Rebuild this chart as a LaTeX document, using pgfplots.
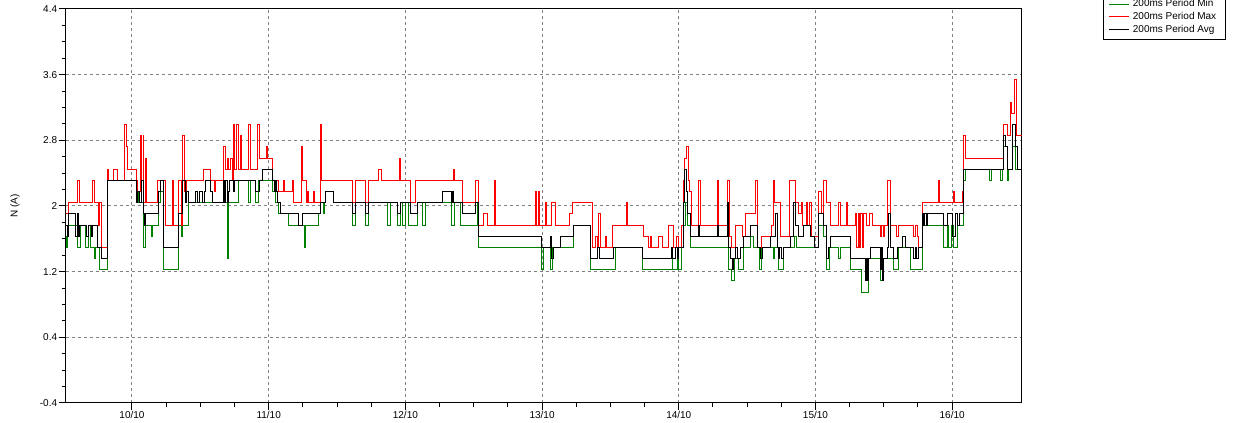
\documentclass[border=0pt]{standalone}
\usepackage{fontspec}
\setmainfont{Liberation Sans}
\usepackage{pgfplots}
\pgfplotsset{compat=1.18}
\definecolor{mingreen}{RGB}{0,128,0}
\definecolor{gridgray}{RGB}{128,128,128}
\begin{document}
\fontsize{7.5}{9}\selectfont
\begin{tikzpicture}
\useasboundingbox (0,0) rectangle (924.75pt,317.25pt);
\clip (0,0) rectangle (924.75pt,317.25pt);
\begin{axis}[
  at={(49.275pt,15pt)}, anchor=south west,
  scale only axis, width=717.2pt, height=295.5pt,
  xmin=9.515, xmax=16.5106, ymin=-0.4, ymax=4.4,
  xtick={10,11,12,13,14,15,16},
  xticklabels={10/10,11/10,12/10,13/10,14/10,15/10,16/10},
  ytick={-0.4,0.4,1.2,2,2.8,3.6,4.4},
  yticklabels={-0.4,0.4,1.2,2,2.8,3.6,4.4},
  minor x tick num=3, minor y tick num=3,
  tick align=outside, xtick pos=left, ytick pos=left,
  major tick length=5.25pt, minor tick length=3pt,
  tick style={black, line width=0.75pt},
  grid=major,
  major grid style={gridgray, line width=0.75pt, dash pattern=on 2.25pt off 2.25pt},
  axis line style={line width=0.75pt},
  ticklabel style={font=\fontsize{7.5}{9}\selectfont},
  xticklabel style={yshift=2pt},
  yticklabel style={xshift=1.5pt},
  ylabel={N (A)},
  every axis y label/.style={at={(axis description cs:-0.053,0.5)}, rotate=90, anchor=center, font=\fontsize{7.5}{9}\selectfont},
  legend style={at={(axis description cs:1.0847,0.922)}, anchor=south west, fill=white,
    font=\fontsize{7.5}{9}\selectfont, inner xsep=4pt, inner ysep=4pt, row sep=2.5pt,
    nodes={inner xsep=2.5pt, inner ysep=0pt, text height=5.5pt, text depth=1.5pt}},
  legend cell align=left,
]
\addplot[const plot, mingreen, line width=0.75pt,
  legend image code/.code={\draw[mingreen, line width=0.75pt] (0pt,0pt) -- (15pt,0pt);}] coordinates {
(9.5150,1.632) (9.5245,1.496) (9.5318,1.632) (9.5391,1.768) (9.5999,1.496) (9.6247,1.768)
(9.6613,1.496) (9.6854,1.768) (9.6979,1.496) (9.7242,1.36) (9.7345,1.496) (9.7637,1.224)
(9.8193,2.312) (10.0344,2.176) (10.0512,2.04) (10.0878,1.496) (10.1002,1.768) (10.1441,1.632)
(10.1514,1.768) (10.1975,2.04) (10.2121,2.176) (10.2341,1.224) (10.3438,1.768) (10.3636,1.632)
(10.3709,1.768) (10.4170,2.04) (10.7023,1.36) (10.7096,2.04) (10.7827,2.312) (10.8559,2.04)
(10.8683,2.312) (10.9049,2.04) (10.9290,2.312) (11.0263,2.176) (11.0534,2.04) (11.0753,1.904)
(11.1485,1.768) (11.2655,1.496) (11.2707,1.768) (11.3680,1.904) (11.3804,2.04) (11.4045,1.904)
(11.4119,2.04) (11.4170,2.176) (11.4777,2.04) (11.6116,1.768) (11.6364,2.04) (11.7096,1.768)
(11.7337,2.04) (11.8676,1.768) (11.8925,2.04) (11.9408,1.768) (11.9656,2.04) (11.9773,1.768)
(12.0022,2.04) (12.0263,1.768) (12.0871,2.04) (12.1236,1.768) (12.1485,2.04) (12.3387,1.768)
(12.3607,2.04) (12.4045,1.768) (12.5260,2.04) (12.5384,1.496) (12.9942,1.224) (13.0139,1.496)
(13.0651,1.224) (13.0797,1.496) (13.2334,1.768) (13.3577,1.224) (13.5384,1.496) (13.7330,1.224)
(13.9525,1.496) (13.9576,1.224) (13.9890,1.496) (14.0015,1.224) (14.0212,1.496) (14.0380,1.768)
(14.0490,2.04) (14.0651,1.768) (14.0871,1.496) (14.3672,1.224) (14.3892,1.088) (14.4090,1.36)
(14.4404,1.224) (14.4770,1.496) (14.5260,1.632) (14.5501,1.496) (14.5940,1.224) (14.6086,1.496)
(14.6913,1.36) (14.7037,1.496) (14.7330,1.224) (14.7696,1.496) (14.8500,1.632) (14.8647,1.496)
(15.0256,1.768) (15.0622,1.632) (15.0841,1.224) (15.1061,1.496) (15.1719,1.36) (15.1844,1.496)
(15.2575,1.224) (15.3402,0.952) (15.3914,1.36) (15.4770,1.088) (15.5011,1.36) (15.5743,1.224)
(15.6108,1.496) (15.6964,1.224) (15.7813,1.768) (15.9400,1.496) (15.9642,1.768) (15.9766,1.496)
(15.9986,1.768) (16.0132,1.496) (16.0373,1.768) (16.0863,2.312) (16.0988,2.448) (16.2765,2.312)
(16.2860,2.448) (16.3570,2.312) (16.3665,2.448) (16.3789,2.72) (16.4031,2.312) (16.4155,2.448)
(16.4397,2.72) (16.4645,2.448) (16.5106,2.448)
};
\addlegendentry{200ms Period Min}
\addplot[const plot, red, line width=0.75pt,
  legend image code/.code={\draw[red, line width=0.75pt] (0pt,0pt) -- (15pt,0pt);}] coordinates {
(9.5150,1.904) (9.5391,2.04) (9.5999,2.312) (9.6123,2.04) (9.7096,2.312) (9.7271,2.04)
(9.7586,1.768) (9.7659,2.04) (9.7754,1.496) (9.8193,2.448) (9.8266,2.312) (9.8632,2.448)
(9.8976,2.312) (9.9415,2.992) (9.9583,2.72) (9.9656,2.448) (10.0344,2.312) (10.0439,2.176)
(10.0607,2.856) (10.0680,2.312) (10.0805,2.856) (10.0878,2.04) (10.1002,2.584) (10.1097,2.04)
(10.1851,2.312) (10.2465,1.768) (10.2948,2.312) (10.3072,1.768) (10.3438,2.312) (10.3606,1.768)
(10.3680,2.856) (10.3855,2.176) (10.4001,2.312) (10.5267,2.448) (10.5757,2.312) (10.6021,2.176)
(10.6145,2.312) (10.6730,2.72) (10.6854,2.448) (10.6950,2.584) (10.7096,2.448) (10.7242,2.584)
(10.7337,2.312) (10.7462,2.992) (10.7535,2.448) (10.7681,2.992) (10.7776,2.448) (10.7901,2.856)
(10.7996,2.448) (10.8559,2.992) (10.8683,2.448) (10.9195,2.992) (10.9312,2.584) (10.9854,2.72)
(10.9949,2.584) (11.0263,2.312) (11.0753,2.176) (11.1119,2.312) (11.1192,2.176) (11.1726,2.312)
(11.1800,2.176) (11.1851,2.04) (11.2385,2.72) (11.2509,2.312) (11.2780,2.04) (11.2875,2.176)
(11.2948,2.04) (11.3314,2.176) (11.3365,2.04) (11.3804,2.992) (11.3877,2.312) (11.6116,2.04)
(11.6364,2.312) (11.7096,2.04) (11.7337,2.312) (11.8069,2.448) (11.8288,2.312) (11.9554,2.584)
(11.9678,2.312) (12.0388,2.04) (12.0754,2.312) (12.3504,2.448) (12.3628,2.312) (12.4162,2.04)
(12.5143,2.312) (12.5384,1.768) (12.5750,1.904) (12.5991,1.768) (12.6555,2.312) (12.6628,1.768)
(12.9554,2.176) (12.9627,1.768) (12.9722,2.176) (12.9825,1.768) (13.0263,2.04) (13.0358,1.768)
(13.0724,2.04) (13.0995,1.768) (13.2041,1.904) (13.2209,2.04) (13.3672,1.496) (13.3943,1.632)
(13.4089,1.496) (13.4162,1.904) (13.4258,1.496) (13.4653,1.632) (13.4697,1.496) (13.5135,1.768)
(13.6160,2.04) (13.6233,1.768) (13.7454,1.632) (13.7820,1.496) (13.7944,1.632) (13.7988,1.496)
(13.8552,1.632) (13.8793,1.496) (13.9283,1.768) (13.9649,1.496) (13.9868,1.632) (14.0015,1.496)
(14.0234,1.768) (14.0380,2.312) (14.0454,2.584) (14.0600,2.72) (14.0695,2.312) (14.0819,2.176)
(14.0915,1.768) (14.1478,2.312) (14.1573,1.768) (14.2816,2.312) (14.2941,1.768) (14.3548,2.312)
(14.3746,1.632) (14.3870,1.496) (14.4163,1.768) (14.4645,1.632) (14.4894,1.904) (14.5648,2.312)
(14.5743,1.496) (14.6086,1.632) (14.6818,1.768) (14.6913,2.312) (14.6986,2.04) (14.7476,1.632)
(14.8135,2.312) (14.8552,2.04) (14.8793,1.904) (14.9013,2.04) (14.9086,1.768) (14.9378,2.04)
(14.9451,1.768) (14.9598,2.04) (14.9744,1.632) (15.0256,2.176) (15.0476,1.904) (15.0622,2.312)
(15.0841,2.04) (15.1112,1.768) (15.1719,2.04) (15.1866,1.768) (15.2304,2.04) (15.2378,1.768)
(15.2941,1.904) (15.3036,1.496) (15.3131,1.904) (15.3233,1.496) (15.3329,1.904) (15.3424,1.496)
(15.3548,1.904) (15.3768,1.768) (15.3987,1.904) (15.4206,1.768) (15.4770,1.632) (15.4865,1.768)
(15.4960,1.632) (15.5062,1.768) (15.5253,2.312) (15.5501,1.768) (15.5940,1.632) (15.6108,1.768)
(15.7206,1.632) (15.7352,1.768) (15.7447,1.632) (15.7571,1.496) (15.7813,2.04) (15.8983,2.312)
(15.9108,2.04) (16.0132,2.176) (16.0205,2.04) (16.0739,2.176) (16.0863,2.856) (16.0988,2.584)
(16.3789,2.992) (16.4031,2.856) (16.4280,3.264) (16.4375,3.128) (16.4572,3.536) (16.4718,2.856)
(16.5106,2.856)
};
\addlegendentry{200ms Period Max}
\addplot[const plot, black, line width=0.75pt,
  legend image code/.code={\draw[black, line width=0.75pt] (0pt,0pt) -- (15pt,0pt);}] coordinates {
(9.5150,1.768) (9.5282,1.632) (9.5340,1.768) (9.5391,1.904) (9.5882,1.632) (9.5977,1.904)
(9.6072,1.632) (9.6159,1.768) (9.6708,1.632) (9.6803,1.768) (9.7001,1.632) (9.7096,1.768)
(9.7462,1.496) (9.7754,1.36) (9.8193,2.312) (10.0344,2.04) (10.0439,2.176) (10.0585,2.04)
(10.0695,2.312) (10.0805,2.04) (10.0878,1.904) (10.0951,1.768) (10.1024,1.904) (10.1975,2.176)
(10.2121,2.312) (10.2341,1.496) (10.3438,1.904) (10.3731,2.312) (10.3914,2.04) (10.4023,2.176)
(10.4170,2.04) (10.4660,2.176) (10.4828,2.04) (10.4952,2.176) (10.5143,2.04) (10.5289,2.176)
(10.5391,2.312) (10.5757,2.176) (10.5874,2.04) (10.6730,2.312) (10.6803,2.04) (10.6876,2.312)
(10.6950,2.04) (10.7059,2.176) (10.7169,2.312) (10.7462,2.176) (10.7535,2.312) (10.9049,2.176)
(10.9364,2.312) (10.9532,2.448) (11.0263,2.312) (11.0424,2.176) (11.0534,2.312) (11.0607,2.176)
(11.0644,2.04) (11.0878,1.904) (11.2217,1.768) (11.2458,1.904) (11.3804,2.04) (11.4170,2.176)
(11.4777,2.04) (11.6116,1.904) (11.6364,2.04) (11.7096,1.904) (11.7337,2.04) (11.9408,1.904)
(11.9656,2.04) (12.0388,1.904) (12.0871,2.04) (12.2699,2.176) (12.3409,2.04) (12.3482,2.176)
(12.3555,2.04) (12.4162,1.904) (12.5143,2.04) (12.5384,1.632) (12.9942,1.496) (13.0651,1.632)
(13.0724,1.36) (13.0819,1.496) (13.1361,1.632) (13.2334,1.768) (13.3577,1.36) (13.4038,1.496)
(13.4214,1.36) (13.5260,1.496) (13.7330,1.36) (13.9481,1.496) (13.9554,1.36) (13.9773,1.496)
(13.9890,1.36) (14.0015,1.496) (14.0380,2.04) (14.0454,2.448) (14.0600,2.176) (14.0673,1.904)
(14.0871,1.632) (14.1456,1.768) (14.1551,1.632) (14.2816,1.768) (14.2941,1.632) (14.3548,2.04)
(14.3672,1.496) (14.3797,1.36) (14.3914,1.224) (14.4016,1.36) (14.4163,1.496) (14.4280,1.36)
(14.4528,1.496) (14.4770,1.632) (14.5260,1.768) (14.5743,1.496) (14.5991,1.36) (14.6160,1.496)
(14.6723,1.632) (14.7089,1.904) (14.7206,1.496) (14.7279,1.36) (14.7403,1.496) (14.7549,1.36)
(14.7696,1.496) (14.8186,1.632) (14.8427,2.04) (14.8552,1.768) (14.8793,1.632) (14.9159,1.768)
(14.9649,1.632) (14.9964,1.496) (15.0256,1.904) (15.0622,1.768) (15.0841,1.36) (15.0988,1.496)
(15.1112,1.632) (15.2575,1.36) (15.3672,1.088) (15.3768,1.36) (15.3841,1.088) (15.3914,1.36)
(15.4038,1.496) (15.4770,1.224) (15.4865,1.496) (15.4938,1.088) (15.5011,1.36) (15.5253,1.496)
(15.5326,1.904) (15.5501,1.496) (15.5743,1.36) (15.5984,1.496) (15.6350,1.632) (15.6599,1.496)
(15.7206,1.36) (15.7315,1.496) (15.7425,1.36) (15.7571,1.496) (15.7813,1.904) (15.7937,1.768)
(15.8010,1.904) (15.8135,1.768) (15.8179,1.904) (15.9400,1.768) (15.9642,1.904) (16.0007,1.632)
(16.0256,1.904) (16.0373,1.768) (16.0571,1.904) (16.0863,2.448) (16.3789,2.856) (16.3936,2.72)
(16.4031,2.448) (16.4397,2.992) (16.4645,2.72) (16.4762,2.448) (16.5106,2.448)
};
\addlegendentry{200ms Period Avg}
\end{axis}
\end{tikzpicture}
\end{document}
